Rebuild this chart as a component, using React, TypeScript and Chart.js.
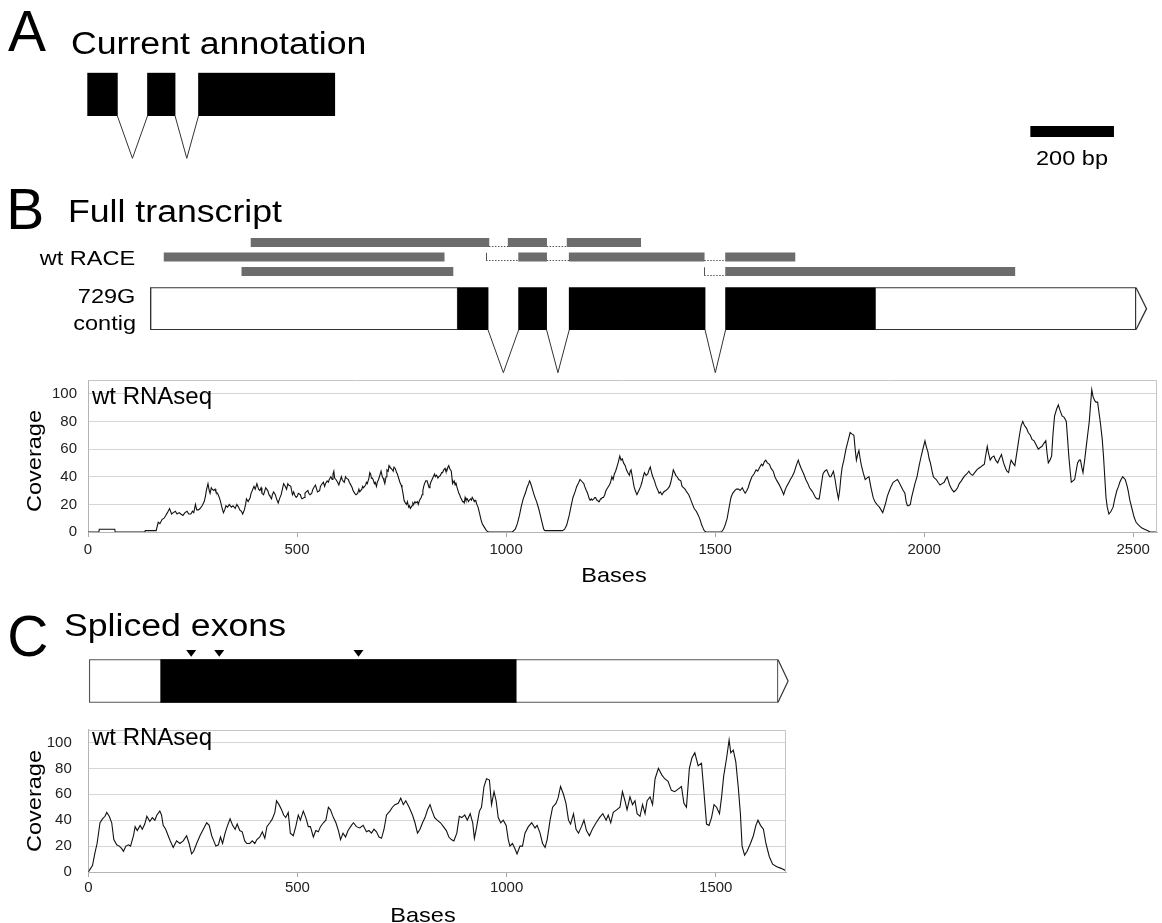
import React, { useEffect, useRef } from "react";
import { Chart, registerables } from "chart.js";
Chart.register(...registerables);

const W = 1162;
const H = 923;
const FONT = "'Liberation Sans', Arial, Helvetica, sans-serif";

// ======================= DATA =======================
// Panel A – current annotation (bp)
const A_EXONS: [number, number][] = [[0, 72], [144, 210], [266, 592]];
const SCALE_BAR_LEN = 200;
const SCALE_BAR_LABEL = "200 bp";

// Panel B – RACE reads (bases)
const RACE_ROWS = ["r1", "r2", "r3"];
const RACE_READ_ROWS = [0, 1, 1, 2, 2];
const RACE_READ_BLOCKS: [number, number][][] = [
  [[390, 959], [1005, 1097], [1146, 1322]],
  [[182, 852]],
  [[952, 952], [1030, 1097], [1151, 1474], [1525, 1691]],
  [[368, 873]],
  [[1474, 1474], [1525, 2217]],
];

// Panel B – 729G contig model (bases)
const CONTIG_UTRS: [number, number][] = [[149, 885], [1882, 2507]];
const CONTIG_EXONS: [number, number][] = [[885, 957], [1030, 1097], [1151, 1476], [1525, 1882]];
const CONTIG_ARROW_TIP = 2532;

// Panel C – spliced transcript (bases)
const SPLICED_BOX: [number, number] = [2, 1649];
const SPLICED_CDS: [number, number] = [173, 1023];
const SPLICED_ARROW_TIP = 1673;
const SPLICED_MARKERS = [246, 313, 646];

// Axes
const A_X_MAX = 2559;
const B_X_MAX = 2557;
const C_X_MAX = 1668;
const Y_MAX = 110;
const B_X_TICKS = [0, 500, 1000, 1500, 2000, 2500];
const C_X_TICKS = [0, 500, 1000, 1500];
const Y_TICKS = [0, 20, 40, 60, 80, 100];

// Panel B – wt RNAseq coverage
const B_BASES = [0,26,27,64,65,136,137,163,168,172,177,182,186,190,195,200,204,209,213,218,222,227,232,237,241,246,250,253,257,260,264,268,273,278,281,283,287,290,292,295,297,301,304,306,310,314,317,321,324,327,330,334,338,343,347,352,356,360,363,367,370,374,377,379,383,388,390,393,397,400,404,408,411,414,416,420,423,425,430,433,435,439,441,444,448,451,455,458,462,465,468,472,475,478,480,485,489,492,494,498,501,503,508,510,512,517,519,522,526,528,531,535,538,540,544,547,549,554,556,558,563,566,568,572,575,577,581,584,586,588,590,593,597,600,604,606,608,610,613,616,618,623,625,627,632,634,636,638,641,645,648,650,655,657,659,664,666,668,672,674,676,678,680,682,685,687,690,692,695,697,699,701,704,706,708,710,713,715,718,720,722,725,728,730,732,735,738,740,742,746,749,751,754,756,759,762,764,767,769,771,773,775,777,779,782,784,788,790,793,797,799,801,803,805,808,811,814,816,818,820,823,826,829,831,834,837,839,843,846,848,851,854,856,858,861,863,865,867,869,871,872,874,876,878,880,882,884,887,889,891,893,896,898,900,902,904,907,910,912,915,917,919,921,924,926,928,930,933,937,940,943,945,949,953,958,1015,1022,1027,1032,1036,1041,1046,1050,1054,1056,1058,1060,1064,1068,1073,1078,1082,1086,1090,1093,1135,1140,1145,1151,1155,1160,1165,1169,1174,1177,1179,1183,1186,1188,1192,1195,1197,1199,1201,1204,1206,1210,1212,1214,1217,1219,1221,1223,1226,1228,1230,1233,1236,1239,1243,1247,1250,1253,1256,1259,1262,1265,1268,1272,1275,1278,1281,1285,1288,1291,1295,1297,1299,1302,1306,1309,1313,1316,1319,1322,1325,1328,1331,1335,1339,1342,1345,1348,1351,1355,1359,1362,1366,1369,1373,1377,1382,1386,1391,1394,1397,1400,1403,1406,1409,1413,1418,1421,1425,1428,1432,1437,1441,1446,1450,1455,1460,1464,1468,1471,1474,1478,1515,1520,1524,1529,1533,1538,1542,1547,1551,1556,1560,1565,1568,1572,1576,1579,1583,1588,1593,1598,1602,1607,1611,1614,1618,1621,1625,1630,1634,1639,1643,1648,1652,1657,1660,1664,1667,1671,1675,1680,1684,1689,1694,1699,1702,1706,1709,1712,1717,1722,1726,1731,1735,1740,1744,1749,1752,1755,1758,1762,1767,1771,1774,1777,1780,1783,1787,1790,1793,1795,1798,1801,1804,1808,1813,1818,1823,1827,1832,1835,1838,1841,1844,1847,1850,1855,1859,1863,1868,1873,1878,1882,1887,1890,1893,1897,1901,1904,1908,1912,1917,1921,1926,1931,1936,1940,1945,1950,1954,1957,1960,1963,1967,1970,1974,1978,1983,1988,1993,1997,2002,2005,2009,2012,2015,2019,2022,2025,2029,2033,2038,2043,2048,2051,2055,2058,2061,2066,2071,2075,2080,2084,2089,2093,2098,2102,2107,2111,2116,2121,2126,2130,2135,2139,2144,2147,2151,2154,2158,2162,2167,2171,2176,2180,2185,2190,2195,2198,2202,2205,2208,2212,2217,2220,2224,2228,2232,2236,2240,2245,2249,2254,2258,2263,2268,2273,2277,2282,2286,2291,2294,2297,2301,2305,2308,2312,2317,2321,2325,2330,2335,2340,2343,2346,2349,2352,2356,2360,2364,2367,2371,2374,2377,2380,2384,2387,2391,2395,2398,2401,2404,2408,2411,2415,2418,2422,2426,2429,2432,2435,2438,2442,2447,2452,2456,2461,2465,2468,2471,2475,2478,2481,2485,2488,2492,2497,2502,2507,2513,2520,2527,2534,2541,2557];
const B_COVERAGE = [0,0,2,2,0,0,1,1,7,6,9,10,12,14,17,13,14,15,13,14,13,12,14,15,13,13,15,14,20,16,16,17,19,22,26,30,35,30,28,32,31,30,31,29,28,25,22,17,14,16,19,18,20,18,19,17,20,18,16,15,13,16,20,24,22,25,28,30,33,31,35,31,30,32,28,27,30,32,30,27,26,24,27,29,27,24,21,24,27,31,35,33,31,35,34,33,27,29,27,25,26,28,27,25,24,25,28,29,30,28,27,28,31,32,34,31,29,30,33,34,36,33,35,37,36,38,40,38,42,44,39,38,36,34,38,40,38,37,36,40,39,38,36,35,32,30,30,28,27,28,31,29,31,33,32,34,36,35,39,43,42,39,39,38,35,36,33,36,38,40,42,44,40,39,37,35,40,45,44,48,47,46,45,44,47,46,43,42,40,36,34,32,27,23,21,20,22,18,19,17,18,19,21,20,22,21,22,20,23,25,27,30,33,35,37,37,34,32,34,36,38,40,42,40,41,39,40,41,43,43,45,46,44,44,47,48,46,45,44,38,35,36,37,34,36,33,31,28,27,25,24,22,22,21,25,23,24,22,23,24,23,25,24,22,23,22,20,18,13,9,6,5,3,1,0,0,2,6,12,18,24,28,32,35,37,36,34,30,26,22,17,12,7,2,1,1,2,5,12,18,25,29,33,36,38,38,36,35,33,30,28,26,24,23,24,23,24,25,25,23,23,22,22,24,24,25,25,27,30,32,34,36,40,38,42,44,47,50,55,52,53,50,48,45,43,41,44,45,40,33,30,27,29,31,33,36,40,43,41,42,45,47,43,40,37,33,31,28,29,27,29,30,31,33,36,40,45,43,41,40,38,37,33,32,31,29,27,24,20,17,15,12,9,5,3,1,0,0,2,5,10,17,25,28,30,31,31,30,32,30,28,30,32,36,40,42,45,44,47,49,48,51,52,50,49,46,44,40,37,35,32,30,27,30,33,35,38,40,43,48,52,49,46,44,42,38,35,32,30,28,25,24,24,30,36,42,44,45,42,40,40,42,44,38,32,27,24,30,40,47,52,60,66,72,71,70,60,52,56,59,53,48,42,38,39,40,32,25,22,20,19,18,16,14,17,21,26,30,33,36,37,38,36,33,30,28,22,19,19,20,25,30,35,40,48,55,60,66,62,58,53,50,44,40,39,38,36,34,35,36,38,40,37,34,31,29,30,32,35,37,39,41,42,44,42,41,43,45,46,47,48,49,55,62,57,52,54,55,52,50,53,56,50,46,44,43,48,52,50,48,54,62,70,77,80,77,75,72,70,67,66,63,60,61,62,64,66,57,50,52,55,70,84,89,92,88,84,83,80,68,55,45,36,37,38,45,50,52,52,47,43,52,60,70,80,92,103,98,95,94,94,87,78,67,55,40,25,18,13,15,18,24,30,33,36,38,40,39,38,34,30,23,17,11,7,5,3,2,1,0,0];

// Panel C – wt RNAseq coverage on spliced exons
const C_BASES = [0,4,10,16,21,28,34,40,44,50,56,61,68,74,80,84,90,96,101,108,112,117,124,129,135,140,147,153,159,164,171,175,179,185,191,196,203,211,219,227,235,241,247,252,259,267,275,283,289,295,300,305,311,316,321,327,332,339,345,351,356,362,368,374,379,386,392,398,403,410,416,422,427,434,440,446,450,456,462,467,472,478,483,490,496,502,507,514,520,526,531,538,544,550,555,562,568,574,579,586,592,598,603,609,615,621,629,634,641,649,657,665,671,677,683,689,695,701,707,713,721,727,733,741,747,753,759,767,775,781,787,793,799,805,811,817,822,828,834,842,849,856,862,868,874,881,887,893,900,906,913,919,923,928,935,940,946,952,959,964,970,975,980,986,992,999,1004,1008,1014,1020,1025,1032,1038,1044,1052,1060,1068,1073,1080,1086,1092,1097,1104,1110,1118,1123,1129,1136,1142,1148,1153,1160,1166,1172,1179,1185,1191,1198,1205,1214,1222,1230,1238,1243,1249,1255,1263,1271,1277,1283,1288,1295,1301,1307,1312,1319,1325,1331,1336,1343,1349,1355,1363,1371,1378,1386,1394,1402,1410,1418,1424,1430,1437,1443,1450,1458,1466,1471,1478,1484,1490,1496,1502,1509,1514,1519,1526,1532,1536,1542,1548,1554,1559,1563,1569,1575,1583,1590,1596,1601,1607,1614,1620,1628,1636,1646,1655,1668];
const C_COVERAGE = [0,2,5,15,22,38,41,43,46,43,38,25,21,20,18,16,20,21,20,28,35,32,36,33,37,43,39,42,40,44,47,44,36,33,28,24,19,24,22,24,28,22,14,16,22,28,33,38,36,28,24,20,21,27,22,30,35,41,36,33,37,32,31,24,22,22,24,22,25,27,31,26,35,38,41,46,55,52,48,44,42,46,30,28,35,44,40,47,42,35,35,27,32,31,35,38,40,50,48,42,38,32,25,30,27,32,36,38,35,34,36,31,32,30,33,31,27,26,33,44,47,50,52,53,57,52,55,50,44,38,30,33,38,42,48,52,47,42,40,38,35,32,27,25,24,30,43,42,44,40,45,38,26,34,47,50,66,72,71,52,62,55,42,38,40,36,25,20,22,18,14,20,20,30,35,38,34,36,30,22,19,25,40,50,53,57,66,60,53,40,37,45,33,30,35,40,32,28,33,38,42,45,40,44,38,46,48,50,62,55,48,58,52,55,45,43,52,45,55,58,52,72,80,75,72,70,63,62,64,66,53,50,80,88,92,82,84,65,37,36,42,52,50,45,58,74,88,102,92,94,85,65,45,20,13,16,22,28,36,40,36,33,22,12,6,4,3,1];

// ======================= LAYOUT (pixels) =======================
const LA = { top: 60, height: 115, left: 87.3, right: 5, areaTop: 72.7, areaBottom: 116, vDepth: 42.3, barOffset: 53.3, barHeight: 11, barStart: 2256 };
const LR = { top: 228, height: 55, left: 88, right: 5, areaTop: 235.25, areaBottom: 278.75, thickness: 8.4 };
const LK = { top: 283, height: 95, left: 88, right: 5, areaTop: 287.3, areaBottom: 330, vDepth: 42.7 };
const LB = { top: 360, height: 240, yAxisW: 88, right: 5, areaTop: 376, areaBottom: 532, tickPadY: 11, tickPadX: 3.5 };
const LS = { top: 640, height: 70, left: 88.3, right: 376, areaTop: 659.3, areaBottom: 702.7, markGap: 2.6, markH: 6.7, markHalf: 5 };
const LC = { top: 704, height: 219, yAxisW: 88.3, right: 376, areaTop: 716, areaBottom: 872, tickPadY: 16.5, tickPadX: 2.3 };

const GENE_LINE = "#333";

function diagramOptions(L: any, xMax: number) {
  return {
    responsive: false,
    animation: false,
    events: [],
    indexAxis: "y",
    layout: { padding: { left: L.left, right: L.right, top: L.areaTop - L.top, bottom: L.top + L.height - L.areaBottom } },
    plugins: { legend: { display: false }, tooltip: { enabled: false } },
    scales: {
      x: { type: "linear", min: 0, max: xMax, display: false },
      y: { type: "category", display: false, offset: true },
    },
  };
}

function vIntrons(ctx: any, x: any, exons: [number, number][], bottom: number, depth: number) {
  for (let i = 0; i < exons.length - 1; i++) {
    const e = exons[i][1];
    const s = exons[i + 1][0];
    ctx.beginPath();
    ctx.moveTo(x.getPixelForValue(e), bottom);
    ctx.lineTo(x.getPixelForValue((e + s) / 2), bottom + depth);
    ctx.lineTo(x.getPixelForValue(s), bottom);
    ctx.stroke();
  }
}

function chevron(ctx: any, x: any, base: number, tip: number, top: number, bottom: number) {
  ctx.beginPath();
  ctx.moveTo(x.getPixelForValue(base), top);
  ctx.lineTo(x.getPixelForValue(tip), (top + bottom) / 2);
  ctx.lineTo(x.getPixelForValue(base), bottom);
  ctx.stroke();
}

const aPlugin = {
  id: "aGene",
  afterDatasetsDraw(chart: any) {
    const { ctx, chartArea: ca } = chart;
    const x = chart.scales.x;
    ctx.save();
    ctx.strokeStyle = GENE_LINE;
    ctx.lineWidth = 1;
    vIntrons(ctx, x, A_EXONS, ca.bottom, LA.vDepth);
    const x0 = x.getPixelForValue(LA.barStart);
    const x1 = x.getPixelForValue(LA.barStart + SCALE_BAR_LEN);
    ctx.fillStyle = "#000";
    ctx.fillRect(x0, ca.top + LA.barOffset, x1 - x0, LA.barHeight);
    ctx.restore();
  },
};

const racePlugin = {
  id: "race",
  afterDatasetsDraw(chart: any) {
    const { ctx } = chart;
    const x = chart.scales.x;
    const y = chart.scales.y;
    const t = LR.thickness;
    ctx.save();
    ctx.strokeStyle = "#555";
    ctx.lineWidth = 1;
    RACE_READ_BLOCKS.forEach((blocks, r) => {
      const yc = y.getPixelForValue(RACE_READ_ROWS[r]);
      const yb = Math.round(yc + t / 2) - 0.5;
      blocks.forEach((b, i) => {
        if (b[1] - b[0] < 1) {
          const px = Math.round(x.getPixelForValue(b[0])) + 0.5;
          ctx.setLineDash([]);
          ctx.beginPath();
          ctx.moveTo(px, yc - t / 2);
          ctx.lineTo(px, yb);
          ctx.stroke();
        }
        if (i > 0) {
          ctx.setLineDash([1.5, 1.5]);
          ctx.beginPath();
          ctx.moveTo(x.getPixelForValue(blocks[i - 1][1]), yb);
          ctx.lineTo(x.getPixelForValue(b[0]), yb);
          ctx.stroke();
        }
      });
    });
    ctx.restore();
  },
};

const contigPlugin = {
  id: "contig",
  afterDatasetsDraw(chart: any) {
    const { ctx, chartArea: ca } = chart;
    const x = chart.scales.x;
    ctx.save();
    ctx.strokeStyle = GENE_LINE;
    ctx.lineWidth = 1;
    vIntrons(ctx, x, CONTIG_EXONS, ca.bottom, LK.vDepth);
    ctx.lineWidth = 1.3;
    chevron(ctx, x, CONTIG_UTRS[CONTIG_UTRS.length - 1][1], CONTIG_ARROW_TIP, ca.top + 0.5, ca.bottom - 0.5);
    ctx.restore();
  },
};

const splicedPlugin = {
  id: "spliced",
  afterDatasetsDraw(chart: any) {
    const { ctx, chartArea: ca } = chart;
    const x = chart.scales.x;
    ctx.save();
    ctx.strokeStyle = GENE_LINE;
    ctx.lineWidth = 1.2;
    chevron(ctx, x, SPLICED_BOX[1], SPLICED_ARROW_TIP, ca.top + 0.5, ca.bottom - 0.5);
    ctx.fillStyle = "#000";
    SPLICED_MARKERS.forEach((m) => {
      const px = x.getPixelForValue(m);
      const tipY = ca.top - LS.markGap;
      ctx.beginPath();
      ctx.moveTo(px - LS.markHalf, tipY - LS.markH);
      ctx.lineTo(px + LS.markHalf, tipY - LS.markH);
      ctx.lineTo(px, tipY);
      ctx.closePath();
      ctx.fill();
    });
    ctx.restore();
  },
};

const framePlugin = {
  id: "frame",
  afterDraw(chart: any) {
    const { ctx, chartArea: ca } = chart;
    ctx.save();
    ctx.strokeStyle = "#c4c4c4";
    ctx.lineWidth = 1;
    const l = Math.round(ca.left) + 0.5;
    const r = Math.round(ca.right) - 0.5;
    const t = Math.round(ca.top) + 0.5;
    ctx.beginPath();
    ctx.moveTo(l, t);
    ctx.lineTo(r, t);
    ctx.lineTo(r, Math.round(ca.bottom));
    ctx.stroke();
    ctx.restore();
  },
};

function coverageConfig(L: any, xs: number[], ys: number[], xMax: number, xTicks: number[]) {
  const tickFont = { family: FONT, size: 15 };
  return {
    type: "line",
    data: {
      datasets: [
        {
          data: xs.map((b, i) => ({ x: b, y: ys[i] })),
          borderColor: "#111",
          borderWidth: 1.1,
          pointRadius: 0,
          tension: 0,
          fill: false,
        },
      ],
    },
    options: {
      responsive: false,
      animation: false,
      events: [],
      layout: { padding: { top: L.areaTop - L.top, right: L.right, left: 0, bottom: 0 } },
      plugins: { legend: { display: false }, tooltip: { enabled: false } },
      scales: {
        x: {
          type: "linear",
          min: 0,
          max: xMax,
          afterBuildTicks: (s: any) => { s.ticks = xTicks.map((v) => ({ value: v })); },
          afterFit: (s: any) => { s.height = L.top + L.height - L.areaBottom; },
          ticks: { font: tickFont, color: "#222", padding: L.tickPadX, maxRotation: 0, autoSkip: false, callback: (v: any) => String(v) },
          grid: { drawOnChartArea: false, drawTicks: true, tickLength: 5, color: "#a8a8a8" },
          border: { display: true, color: "#b4b4b4" },
        },
        y: {
          type: "linear",
          min: 0,
          max: Y_MAX,
          afterBuildTicks: (s: any) => { s.ticks = Y_TICKS.map((v) => ({ value: v })); },
          afterFit: (s: any) => { s.width = L.yAxisW; },
          ticks: { font: tickFont, color: "#222", padding: L.tickPadY, autoSkip: false, callback: (v: any) => String(v) },
          grid: { drawTicks: false, color: "#d6d6d6" },
          border: { display: true, color: "#b4b4b4" },
        },
      },
    },
    plugins: [framePlugin],
  };
}

function ChartCanvas({ top, height, make }: { top: number; height: number; make: () => any }) {
  const ref = useRef<HTMLCanvasElement>(null);
  useEffect(() => {
    const chart = new Chart(ref.current as HTMLCanvasElement, make());
    return () => chart.destroy();
  }, []);
  return (
    <canvas
      ref={ref}
      width={W}
      height={height}
      style={{ position: "absolute", left: 0, top, width: W, height, display: "block" }}
    />
  );
}

function Label({ x, baseline, size, sx = 1, align = "left", children }: any) {
  const style: any = {
    position: "absolute",
    top: baseline - 0.8465 * size,
    fontFamily: FONT,
    fontSize: size,
    lineHeight: 1,
    whiteSpace: "nowrap",
    color: "#000",
  };
  if (align === "left") {
    style.left = x;
    style.transformOrigin = "left center";
    style.transform = `scaleX(${sx})`;
  } else if (align === "right") {
    style.right = W - x;
    style.transformOrigin = "right center";
    style.transform = `scaleX(${sx})`;
  } else {
    style.left = x;
    style.transformOrigin = "center";
    style.transform = `translateX(-50%) scaleX(${sx})`;
  }
  return <div style={style}>{children}</div>;
}

function VLabel({ cx, cy, size, sx = 1, children }: any) {
  return (
    <div
      style={{
        position: "absolute",
        left: cx,
        top: cy,
        fontFamily: FONT,
        fontSize: size,
        lineHeight: 1,
        whiteSpace: "nowrap",
        color: "#000",
        transformOrigin: "center",
        transform: `translate(-50%, -50%) rotate(-90deg) scaleX(${sx})`,
      }}
    >
      {children}
    </div>
  );
}

export default function App() {
  const makeA = () => ({
    type: "bar",
    data: {
      labels: ["exon"],
      datasets: [
        {
          data: A_EXONS.map((e) => ({ x: e, y: "exon" })),
          backgroundColor: "#000",
          borderWidth: 0,
          barPercentage: 1,
          categoryPercentage: 1,
          grouped: false,
        },
      ],
    },
    options: diagramOptions(LA, A_X_MAX),
    plugins: [aPlugin],
  });

  const makeRace = () => ({
    type: "bar",
    data: {
      labels: RACE_ROWS,
      datasets: [
        {
          data: RACE_READ_BLOCKS.flatMap((blocks, r) =>
            blocks.filter((b) => b[1] - b[0] >= 1).map((b) => ({ x: b, y: RACE_ROWS[RACE_READ_ROWS[r]] }))
          ),
          backgroundColor: "#6c6c6c",
          borderWidth: 0,
          barThickness: LR.thickness,
          grouped: false,
        },
      ],
    },
    options: diagramOptions(LR, B_X_MAX),
    plugins: [racePlugin],
  });

  const makeContig = () => ({
    type: "bar",
    data: {
      labels: ["contig"],
      datasets: [
        {
          data: CONTIG_EXONS.map((e) => ({ x: e, y: "contig" })),
          backgroundColor: "#000",
          borderWidth: 0,
          barPercentage: 1,
          categoryPercentage: 1,
          grouped: false,
          order: 0,
        },
        {
          data: CONTIG_UTRS.map((e) => ({ x: e, y: "contig" })),
          backgroundColor: "#fff",
          borderColor: GENE_LINE,
          borderWidth: 1.4,
          borderSkipped: false,
          barPercentage: 1,
          categoryPercentage: 1,
          grouped: false,
          order: 1,
        },
      ],
    },
    options: diagramOptions(LK, B_X_MAX),
    plugins: [contigPlugin],
  });

  const makeSpliced = () => ({
    type: "bar",
    data: {
      labels: ["mrna"],
      datasets: [
        {
          data: [{ x: SPLICED_CDS, y: "mrna" }],
          backgroundColor: "#000",
          borderWidth: 0,
          barPercentage: 1,
          categoryPercentage: 1,
          grouped: false,
          order: 0,
        },
        {
          data: [{ x: SPLICED_BOX, y: "mrna" }],
          backgroundColor: "#fff",
          borderColor: "#555",
          borderWidth: 1.3,
          borderSkipped: false,
          barPercentage: 1,
          categoryPercentage: 1,
          grouped: false,
          order: 1,
        },
      ],
    },
    options: diagramOptions(LS, C_X_MAX),
    plugins: [splicedPlugin],
  });

  return (
    <div style={{ position: "absolute", left: 0, top: 0, width: W, height: H, overflow: "hidden", background: "#fff" }}>
      <ChartCanvas top={LA.top} height={LA.height} make={makeA} />
      <ChartCanvas top={LR.top} height={LR.height} make={makeRace} />
      <ChartCanvas top={LK.top} height={LK.height} make={makeContig} />
      <ChartCanvas top={LB.top} height={LB.height} make={() => coverageConfig(LB, B_BASES, B_COVERAGE, B_X_MAX, B_X_TICKS)} />
      <ChartCanvas top={LS.top} height={LS.height} make={makeSpliced} />
      <ChartCanvas top={LC.top} height={LC.height} make={() => coverageConfig(LC, C_BASES, C_COVERAGE, C_X_MAX, C_X_TICKS)} />

      {/* Panel A */}
      <Label x={8} baseline={50.8} size={57}>A</Label>
      <Label x={71} baseline={54} size={31} sx={1.15}>Current annotation</Label>
      <Label x={1071.5} baseline={165} size={21} sx={1.12} align="center">{SCALE_BAR_LABEL}</Label>

      {/* Panel B */}
      <Label x={6.3} baseline={229.3} size={57}>B</Label>
      <Label x={68.2} baseline={222} size={31} sx={1.15}>Full transcript</Label>
      <Label x={135} baseline={265} size={21} sx={1.12} align="right">wt RACE</Label>
      <Label x={135} baseline={302.5} size={21} sx={1.12} align="right">729G</Label>
      <Label x={136} baseline={330} size={21} sx={1.12} align="right">contig</Label>
      <Label x={92} baseline={404} size={24}>wt RNAseq</Label>
      <VLabel cx={32.8} cy={461} size={21} sx={1.12}>Coverage</VLabel>
      <Label x={614} baseline={581.5} size={21} sx={1.12} align="center">Bases</Label>

      {/* Panel C */}
      <Label x={7.3} baseline={656.5} size={57}>C</Label>
      <Label x={63.7} baseline={636} size={31} sx={1.15}>Spliced exons</Label>
      <Label x={92} baseline={745} size={24}>wt RNAseq</Label>
      <VLabel cx={32.8} cy={801} size={21} sx={1.12}>Coverage</VLabel>
      <Label x={423} baseline={921.5} size={21} sx={1.12} align="center">Bases</Label>
    </div>
  );
}
